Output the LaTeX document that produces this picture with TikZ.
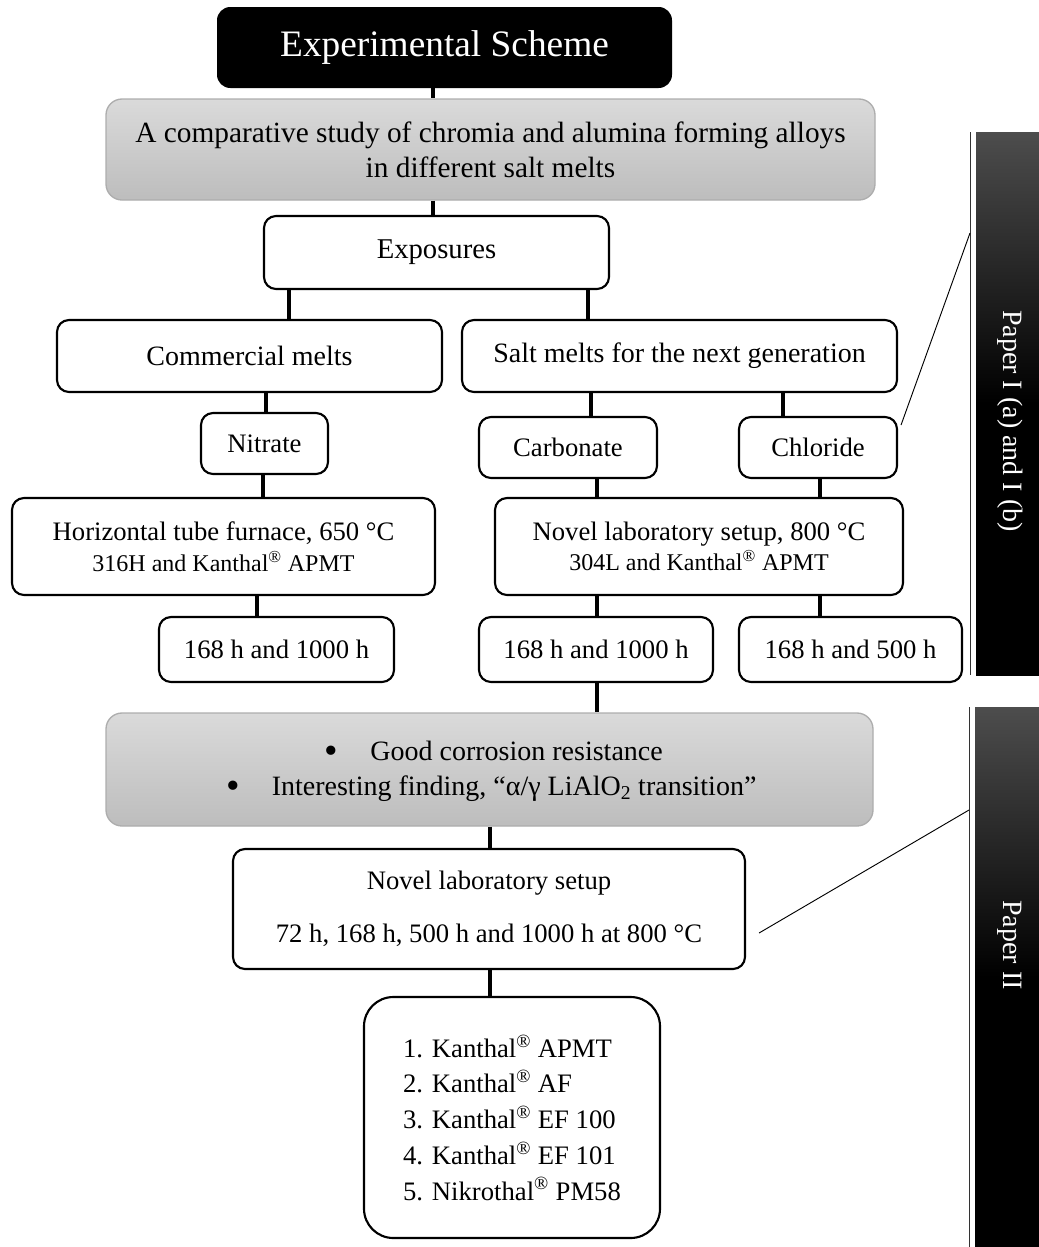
\documentclass[tikz,border=0pt]{standalone}
\usepackage{fontspec}
\setmainfont{Liberation Serif}
\usetikzlibrary{positioning}
\newcommand{\findbul}{\raisebox{-2.5pt}{\fontsize{29}{29}\selectfont •}\hspace*{24pt}}

\begin{document}
\begin{tikzpicture}[x=0.75pt,y=-0.75pt,
		box/.style={draw,line width=1.6pt,rounded corners=9pt,fill=white,align=center,inner sep=0pt,font=\fontsize{20}{24}\selectfont},
		graybox/.style={draw=boxedge,line width=1pt,rounded corners=12pt,top color=graytop,bottom color=graybot,align=center,inner sep=0pt},
		link/.style={line width=2.3pt},
		pointer/.style={line width=0.7pt},
		bartext/.style={rotate=-90,text=white,font=\fontsize{21}{25}\selectfont}]
					\definecolor{graytop}{HTML}{DADADA}
					\definecolor{graybot}{HTML}{BDBDBD}
					\definecolor{boxedge}{HTML}{ADADAD}
					\definecolor{bartop}{HTML}{4D4D4D}
					\useasboundingbox (0,0) rectangle (1039,1247);

					\node[fill=black,rounded corners=10pt,minimum width=341.25pt,minimum height=60.75pt,text=white,font=\fontsize{28}{34}\selectfont] (title) at (444.5,47.5) {Experimental Scheme};
					\node[graybox,minimum width=576.75pt,minimum height=75.75pt,font=\fontsize{22}{26}\selectfont] (study) at (490.5,149.5) {A comparative study of chromia and alumina forming alloys\\ in different salt melts};
					\node[box,minimum width=258.75pt,minimum height=54.75pt,font=\fontsize{21.5}{25}\selectfont] (expo) at (436.5,252.5) {Exposures};

					\node[box,minimum width=288.75pt,minimum height=54pt,font=\fontsize{21}{25}\selectfont] (comm) at (249.5,356) {Commercial melts};
					\node[box,minimum width=326.25pt,minimum height=54pt,font=\fontsize{21}{25}\selectfont] (salt) at (679.5,356) {Salt melts for the next generation};

					\node[box,minimum width=95.25pt,minimum height=45.75pt] (nitr) at (264.5,443.5) {Nitrate};
					\node[box,minimum width=133.5pt,minimum height=45.75pt] (carb) at (568,447.5) {Carbonate};
					\node[box,minimum width=118.5pt,minimum height=45.75pt] (chlo) at (818,447.5) {Chloride};

					\node[box,minimum width=317.25pt,minimum height=72.75pt] (tube) at (223.5,546.5) {Horizontal tube furnace, 650 °C\\[-1pt] {\fontsize{18}{20}\selectfont 316H and Kanthal\textsuperscript{®} APMT}};
					\node[box,minimum width=306pt,minimum height=72.75pt] (setup) at (699,546.5) {Novel laboratory setup, 800 °C\\[-2pt] {\fontsize{18}{20}\selectfont 304L and Kanthal\textsuperscript{®} APMT}};

					\node[box,minimum width=176.25pt,minimum height=48.75pt] (tnit) at (276.5,649.5) {168 h and 1000 h};
					\node[box,minimum width=175.5pt,minimum height=48.75pt] (tcarb) at (596,649.5) {168 h and 1000 h};
					\node[box,minimum width=167.25pt,minimum height=48.75pt] (tchlo) at (850.5,649.5) {168 h and 500 h};

					\node[graybox,minimum width=575.25pt,minimum height=84.75pt] (finds) at (489.5,769.5) {};
					\node[anchor=west,align=left,inner sep=0pt,font=\fontsize{21}{26.5}\selectfont] (findtxt) at (226,771) {\hspace*{74pt}\findbul Good corrosion resistance\\ \findbul Interesting finding, “α/γ LiAlO\textsubscript{2} transition”};

					\node[box,minimum width=384pt,minimum height=90pt] (lab) at (489,909) {Novel laboratory setup\\[16pt] 72 h, 168 h, 500 h and 1000 h at 800 °C};
					\node[box,rounded corners=22pt,minimum width=222pt,minimum height=180.75pt,align=left,font=\fontsize{20}{26.8}\selectfont] (alloys) at (512,1117.5) {1. Kanthal\textsuperscript{®} APMT\\ 2. Kanthal\textsuperscript{®} AF\\ 3. Kanthal\textsuperscript{®} EF 100\\ 4. Kanthal\textsuperscript{®} EF 101\\ 5. Nikrothal\textsuperscript{®} PM58};

					% tree connectors
					\foreach \a/\b/\x in {title/study/433, study/expo/433, expo/comm/289, expo/salt/588, comm/nitr/266, salt/carb/591, salt/chlo/783, nitr/tube/263, carb/setup/597, chlo/setup/820, tube/tnit/257, setup/tcarb/597, setup/tchlo/820, tcarb/finds/597, finds/lab/490, lab/alloys/490}{
						\coordinate (cx) at (\x,0);
						\draw[link] (\a.south -| cx) -- (\b.north -| cx);
					}

					% paper bars
					\shade[top color=bartop,bottom color=black,middle color=black] (976,132) rectangle (1039,675);
					\draw[pointer,black!80] (970,132) -- (970,675);
					\node[bartext] (paperA) at (1010,421) {Paper I (a) and I (b)};
					\shade[top color=bartop,bottom color=black,middle color=black] (975,707) rectangle (1039,1247);
					\draw[pointer,black!80] (969,707) -- (969,1247);
					\node[bartext] (paperB) at (1010,945) {Paper II};

					\coordinate (tipA) at (970,233);
					\coordinate (tipB) at (969,810);
					\draw[pointer] ([shift={(3,9)}]chlo.north east) -- (tipA);
					\draw[pointer] ([shift={(13,24)}]lab.east) -- (tipB);
				\end{tikzpicture}
\end{document}
